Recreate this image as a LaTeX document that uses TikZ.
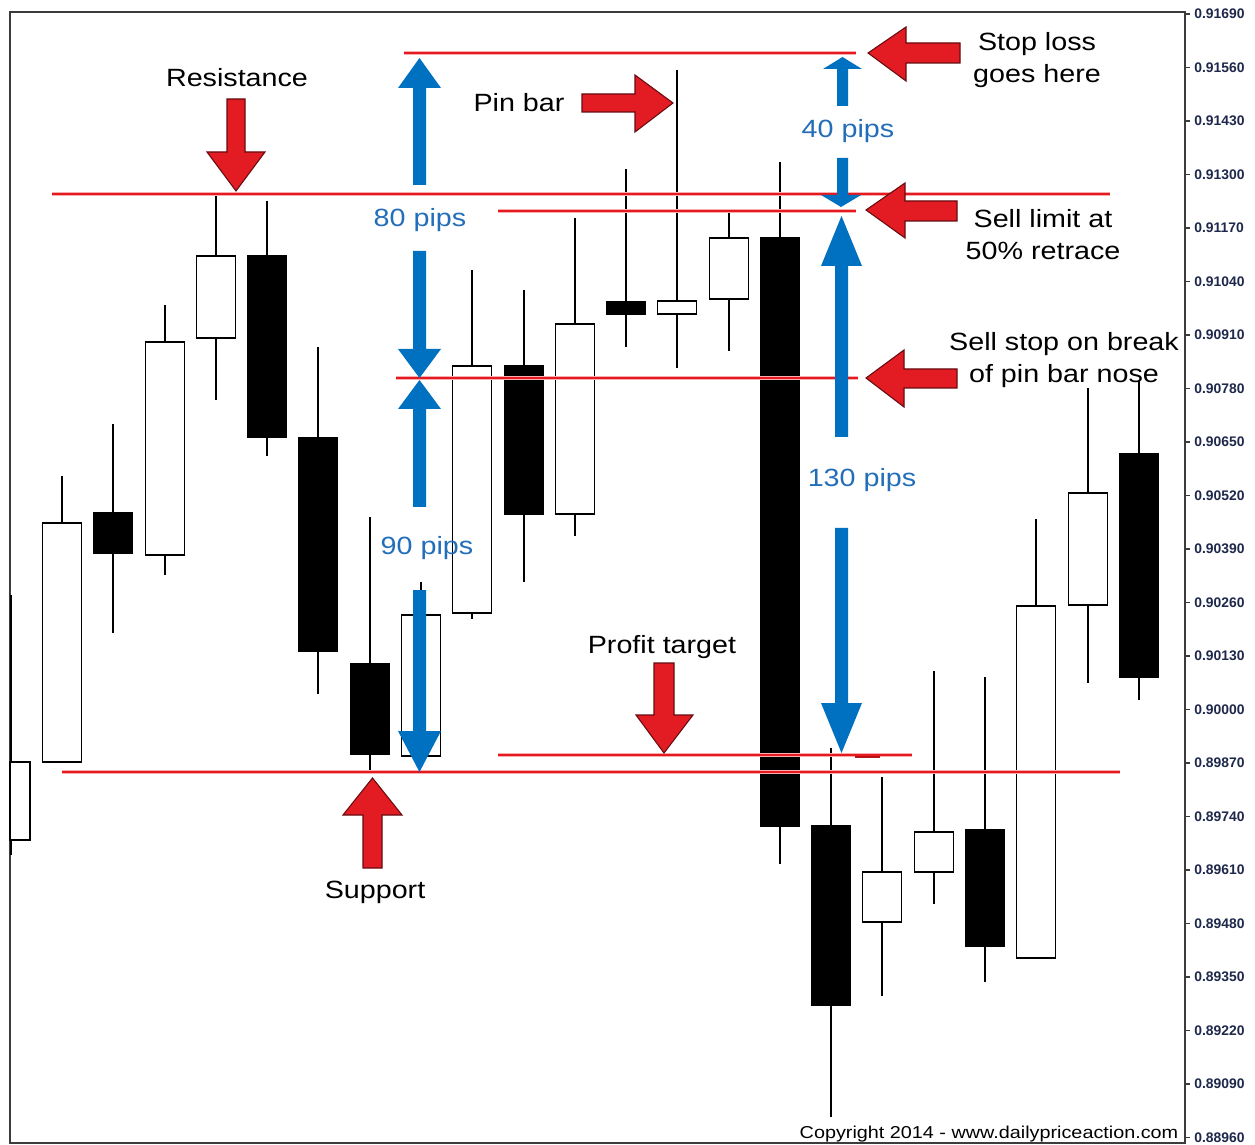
\documentclass[tikz,border=0pt]{standalone}
\usepackage{fontspec}
\setmainfont{Liberation Sans}
\newfontfamily\wideface[FakeStretch=1.15]{Liberation Sans}
\usepackage{xcolor}
\definecolor{lvlred}{RGB}{230,25,30}
\definecolor{arrowred}{RGB}{227,27,35}
\definecolor{pipblue}{RGB}{0,112,192}
\definecolor{piptext}{RGB}{35,110,185}
\definecolor{pricenavy}{RGB}{30,40,75}
\definecolor{framegray}{RGB}{60,60,60}
\newcommand{\notefont}{\wideface\fontsize{14.2}{18.6}\selectfont}
\newcommand{\copyfont}{\wideface\fontsize{9.8}{12}\selectfont}
\newcommand{\pricefont}{\bfseries\fontsize{7.9}{9}\selectfont}

\begin{document}
\begin{tikzpicture}[x=0.02cm,y=-0.02cm,
 wick/.style={line width=0.9pt},
 bull/.style={draw=black,fill=white,line width=1.1pt},
 bear/.style={draw=black,fill=black,line width=1.1pt},
 level/.style={draw=lvlred,line width=1.2pt,preaction={draw=lvlred!35,line width=2.6pt}},
 blk/.style={fill=arrowred,draw=arrowred!45!black,line width=0.6pt},
 pips/.style={fill=pipblue},
 note/.style={font=\notefont,text=black,inner sep=0pt,anchor=base},
 pipnote/.style={note,text=piptext},
 price/.style={font=\pricefont,text=pricenavy,inner sep=0pt,anchor=west},
 copy/.style={font=\copyfont,text=black,inner sep=0pt,anchor=base}]
 \useasboundingbox[fill=white] (0,0) rectangle (1255,1145);
 \draw[framegray,line width=1pt] (10,12) rectangle (1185,1143);

 % candles
 \draw[wick,line width=1.6pt] (11,595)--(11,855);
 \draw[bull] (10,762) rectangle (30,840);
 \draw[wick] (62,476)--(62,523);
 \draw[bull] (42.5,523) rectangle ++(39,239);
 \draw[wick] (113,424)--(113,633);
 \draw[bear] (93.5,513) rectangle ++(39,40);
 \draw[wick] (165,305)--(165,575);
 \draw[bull] (145.5,342) rectangle ++(39,213);
 \draw[wick] (216,193)--(216,400);
 \draw[bull] (196.5,256) rectangle ++(39,82);
 \draw[wick] (267,201)--(267,456);
 \draw[bear] (247.5,256) rectangle ++(39,181);
 \draw[wick] (318,347)--(318,694);
 \draw[bear] (298.5,438) rectangle ++(39,213);
 \draw[wick] (370,517)--(370,771);
 \draw[bear] (350.5,664) rectangle ++(39,90);
 \draw[wick] (421,582)--(421,615);
 \draw[bull] (401.5,615) rectangle ++(39,141);
 \draw[wick] (472,270)--(472,619);
 \draw[bull] (452.5,366) rectangle ++(39,247);
 \draw[wick] (524,290)--(524,582);
 \draw[bear] (504.5,366) rectangle ++(39,148);
 \draw[wick] (575,218)--(575,536);
 \draw[bull] (555.5,324) rectangle ++(39,190);
 \draw[wick] (626,169)--(626,347);
 \draw[bear] (606.5,302) rectangle ++(39,12);
 \draw[wick] (677,70)--(677,368);
 \draw[bull] (657.5,301) rectangle ++(39,13);
 \draw[wick] (729,209)--(729,351);
 \draw[bull] (709.5,238) rectangle ++(39,61);
 \draw[wick] (780,162)--(780,864);
 \draw[bear] (760.5,238) rectangle ++(39,588);
 \draw[wick] (831,748)--(831,1117);
 \draw[bear] (811.5,826) rectangle ++(39,179);
 \draw[wick] (882,777)--(882,996);
 \draw[bull] (862.5,872) rectangle ++(39,50);
 \draw[wick] (934,671)--(934,904);
 \draw[bull] (914.5,832) rectangle ++(39,40);
 \draw[wick] (985,677)--(985,982);
 \draw[bear] (965.5,830) rectangle ++(39,116);
 \draw[wick] (1036,519)--(1036,606);
 \draw[bull] (1016.5,606) rectangle ++(39,352);
 \draw[wick] (1088,388)--(1088,683);
 \draw[bull] (1068.5,493) rectangle ++(39,112);
 \draw[wick] (1139,380)--(1139,700);
 \draw[bear] (1119.5,454) rectangle ++(39,223);

 % levels
 \draw[level] (52,194)--(1110,194);
 \draw[level] (404,53)--(856,53);
 \draw[level] (498,211)--(856,211);
 \draw[level] (396,378)--(858,378);
 \draw[level] (498,755)--(912,755);
 \draw[lvlred!80!black,line width=1.4pt] (855,757)--(880,757);
 \draw[level] (62,772)--(1120,772);

 % pip arrows
 \fill[pips] (413,185)--(413,88)--(398,88)--(419.5,58)--(441,88)--(426,88)--(426,185)--cycle;
 \fill[pips] (413,251)--(413,349)--(398,349)--(419.5,378)--(441,349)--(426,349)--(426,251)--cycle;
 \fill[pips] (413,507)--(413,409)--(398,409)--(419.5,380)--(441,409)--(426,409)--(426,507)--cycle;
 \fill[pips] (413,590)--(413,731)--(398,731)--(419.5,772)--(441,731)--(426,731)--(426,590)--cycle;
 \fill[pips] (837,106)--(837,69)--(823,69)--(842.5,57)--(862,69)--(848,69)--(848,106)--cycle;
 \fill[pips] (837,158)--(837,195)--(821,195)--(841,207)--(861,195)--(848,195)--(848,158)--cycle;
 \fill[pips] (835,437)--(835,266)--(821,266)--(841.5,216)--(862,266)--(848,266)--(848,437)--cycle;
 \fill[pips] (835,528)--(835,703)--(821,703)--(841.5,753)--(862,703)--(848,703)--(848,528)--cycle;

 % red block arrows
 \draw[blk] (227,99)--(245,99)--(245,152)--(265,152)--(236,191)--(207,152)--(227,152)--cycle;
 \draw[blk] (363,868)--(382,868)--(382,815)--(402,815)--(372.5,778)--(343,815)--(363,815)--cycle;
 \draw[blk] (654,663)--(674,663)--(674,715)--(693,715)--(664,753)--(636,715)--(654,715)--cycle;
 \draw[blk] (582,94)--(635,94)--(635,75)--(673,103)--(635,132)--(635,112)--(582,112)--cycle;
 \draw[blk] (960,43)--(906,43)--(906,27)--(868,53)--(906,81)--(906,63)--(960,63)--cycle;
 \draw[blk] (957,201)--(905,201)--(905,183)--(866,210)--(905,238)--(905,221)--(957,221)--cycle;
 \draw[blk] (957,369)--(904,369)--(904,350)--(866,378)--(904,407)--(904,388)--(957,388)--cycle;

 % notes
 \node[note] (resist) at (237,87) {Resistance};
 \node[note] (pinbar) at (519,112) {Pin bar};
 \node[note,align=center] (stoploss) at (1037,83) {Stop loss\\goes here};
 \node[note,align=center] (selllimit) at (1043,260) {Sell limit at\\50\% retrace};
 \node[note,align=center] (sellstop) at (1064,383) {Sell stop on break\\of pin bar nose};
 \node[note] (profit) at (662,653) {Profit target};
 \node[note] (support) at (375,898) {Support};
 \node[pipnote] (pips80) at (420,227) {80 pips};
 \node[pipnote] (pips90) at (427,555) {90 pips};
 \node[pipnote] (pips40) at (848,138) {40 pips};
 \node[pipnote] (pips130) at (862,487) {130 pips};
 \node[copy] (copyright) at (989,1138) {Copyright 2014 - www.dailypriceaction.com};

 % price scale
 \draw[framegray,line width=0.8pt] (1185,14)--++(5,0) (1185,67.5)--++(5,0) (1185,121)--++(5,0)
  (1185,174.5)--++(5,0) (1185,228)--++(5,0) (1185,281.5)--++(5,0) (1185,335)--++(5,0)
  (1185,388.5)--++(5,0) (1185,442)--++(5,0) (1185,495.5)--++(5,0) (1185,549)--++(5,0)
  (1185,602.5)--++(5,0) (1185,656)--++(5,0) (1185,709.5)--++(5,0) (1185,763)--++(5,0)
  (1185,816.5)--++(5,0) (1185,870)--++(5,0) (1185,923.5)--++(5,0) (1185,977)--++(5,0)
  (1185,1030.5)--++(5,0) (1185,1084)--++(5,0) (1185,1137.5)--++(5,0);
 \node[price] (q91690) at (1194,14) {0.91690};
 \node[price] (q91560) at (1194,67.5) {0.91560};
 \node[price] (q91430) at (1194,121) {0.91430};
 \node[price] (q91300) at (1194,174.5) {0.91300};
 \node[price] (q91170) at (1194,228) {0.91170};
 \node[price] (q91040) at (1194,281.5) {0.91040};
 \node[price] (q90910) at (1194,335) {0.90910};
 \node[price] (q90780) at (1194,388.5) {0.90780};
 \node[price] (q90650) at (1194,442) {0.90650};
 \node[price] (q90520) at (1194,495.5) {0.90520};
 \node[price] (q90390) at (1194,549) {0.90390};
 \node[price] (q90260) at (1194,602.5) {0.90260};
 \node[price] (q90130) at (1194,656) {0.90130};
 \node[price] (q90000) at (1194,709.5) {0.90000};
 \node[price] (q89870) at (1194,763) {0.89870};
 \node[price] (q89740) at (1194,816.5) {0.89740};
 \node[price] (q89610) at (1194,870) {0.89610};
 \node[price] (q89480) at (1194,923.5) {0.89480};
 \node[price] (q89350) at (1194,977) {0.89350};
 \node[price] (q89220) at (1194,1030.5) {0.89220};
 \node[price] (q89090) at (1194,1084) {0.89090};
 \node[price] (q88960) at (1194,1137.5) {0.88960};
\end{tikzpicture}
\end{document}
